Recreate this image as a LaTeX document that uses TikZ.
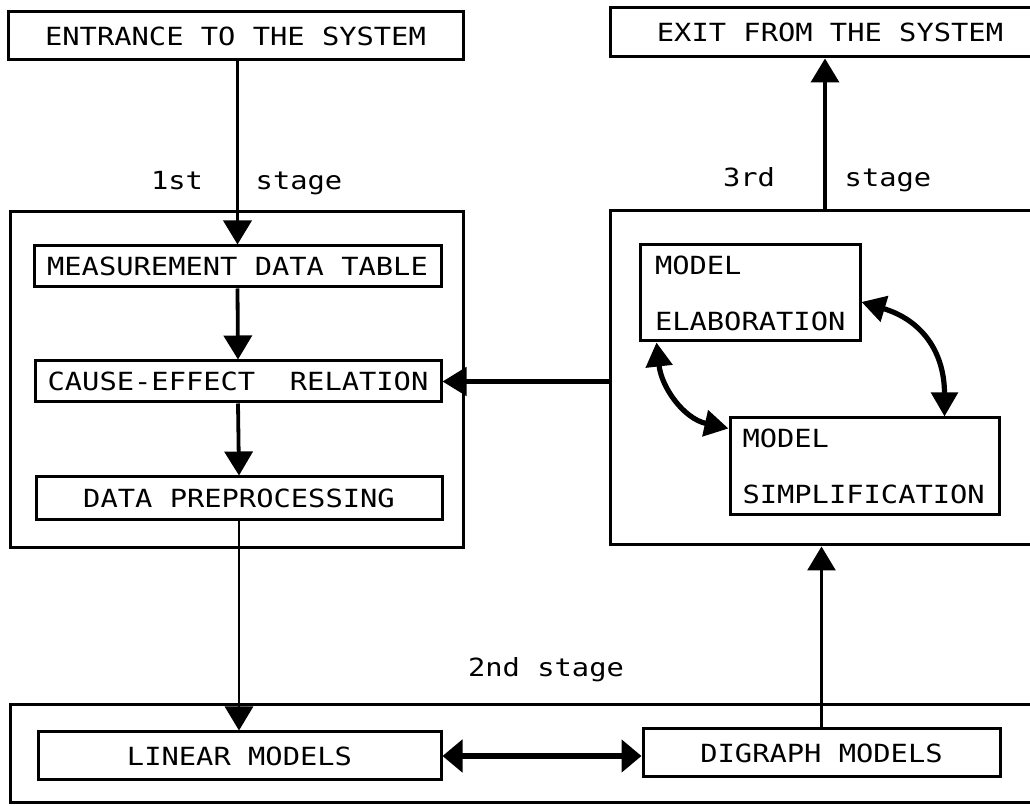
\documentclass[tikz,border=0pt]{standalone}
\usepackage{fontspec}
\newfontfamily\dmono[FakeStretch=1.15]{DejaVu Sans Mono}
\usetikzlibrary{arrows.meta,calc}
\begin{document}
\begin{tikzpicture}[x=0.5pt,y=-0.5pt,
  txt/.style={font=\dmono\fontsize{12.5}{28}\selectfont},
  box/.style={txt, draw, line width=1.5pt, inner sep=0pt},
  lbl/.style={txt, inner sep=0pt, anchor=base},
  tip/.style={-{Triangle[length=12pt,width=14pt]}},
  arr/.style={tip, line width=1.9pt},
  tarr/.style={tip, line width=1.4pt},
  harr/.style={tip, line width=2.4pt},
  darr/.style={{Triangle[length=10pt,width=16pt]}-{Triangle[length=10pt,width=16pt]}, line width=3.2pt},
  carr/.style={{Triangle[length=12pt,width=13pt]}-{Triangle[length=12pt,width=13pt]}, line width=2.6pt}]
\useasboundingbox (0,0) rectangle (1030,806);
\clip (0,0) rectangle (1030,806);
% outer boxes
\node[box, minimum width=227.5pt, minimum height=24pt] (entr) at (235.5,36) {ENTRANCE TO THE SYSTEM};
\node[box, minimum width=220pt, minimum height=24.5pt] (exit) at (830,32.5) {EXIT FROM THE SYSTEM};
\node[box, minimum width=226.5pt, minimum height=168pt] (stage1) at (236.5,380) {};
\node[box, minimum width=220pt, minimum height=167pt] (stage3) at (830,378) {};
\node[box, minimum width=520pt, minimum height=49pt] (stage2) at (530,754) {};
% inner boxes
\node[box, minimum width=203.5pt, minimum height=20.5pt] (meas) at (237.5,266.5) {MEASUREMENT DATA TABLE};
\node[box, minimum width=203pt, minimum height=20.5pt] (cause) at (238,381.5) {CAUSE-EFFECT\ \ RELATION};
\node[box, minimum width=203pt, minimum height=21.5pt] (data) at (239,498.5) {DATA PREPROCESSING};
\node[box, align=left, text width=95pt, inner xsep=7.5pt, minimum height=48pt] (elab) at (750,293) {MODEL\\ELABORATION};
\node[box, align=left, text width=122pt, inner xsep=6.25pt, minimum height=48.5pt] (simp) at (864.5,466.5) {MODEL\\SIMPLIFICATION};
\node[box, minimum width=201.5pt, minimum height=24pt] (linear) at (239.5,756) {LINEAR MODELS};
\node[box, minimum width=178.5pt, minimum height=24pt] (digraph) at (821.5,753) {DIGRAPH MODELS};
% stage labels
\node[lbl] (l1a) at (177,190) {1st};
\node[lbl] (l1b) at (299,190) {stage};
\node[lbl] (l3a) at (749,187) {3rd};
\node[lbl] (l3b) at (888,187) {stage};
\node[lbl] (l2) at (546,677) {2nd stage};
% connectors
\draw[arr] (entr.south -| meas.north) -- (meas.north);
\draw[arr] (meas.south) -- (cause.north);
\draw[arr] (cause.south) -- (data.north);
\draw[tarr] (data.south) -- (data.south |- linear.north);
\draw[tarr] (digraph.north) -- (digraph.north |- stage3.south);
\coordinate (s3top) at ($(stage3.north)+(-5,0)$);
\draw[arr] (s3top) -- (s3top |- exit.south);
\draw[harr] (stage3.west |- cause.east) -- (cause.east);
\draw[darr] (linear.east) -- (linear.east -| digraph.west);
\coordinate (e1) at ($(elab.east)+(0,9)$);
\coordinate (s1) at ($(simp.north)+(80,0)$);
\draw[carr] (e1) .. controls +(60,18) and +(0,-65) .. (s1);
\coordinate (e2) at ($(elab.south west)+(18,0)$);
\coordinate (s2) at ($(simp.north west)+(0,12)$);
\draw[carr] (e2) .. controls +(5,45) and +(-45,-10) .. (s2);
\end{tikzpicture}
\end{document}
